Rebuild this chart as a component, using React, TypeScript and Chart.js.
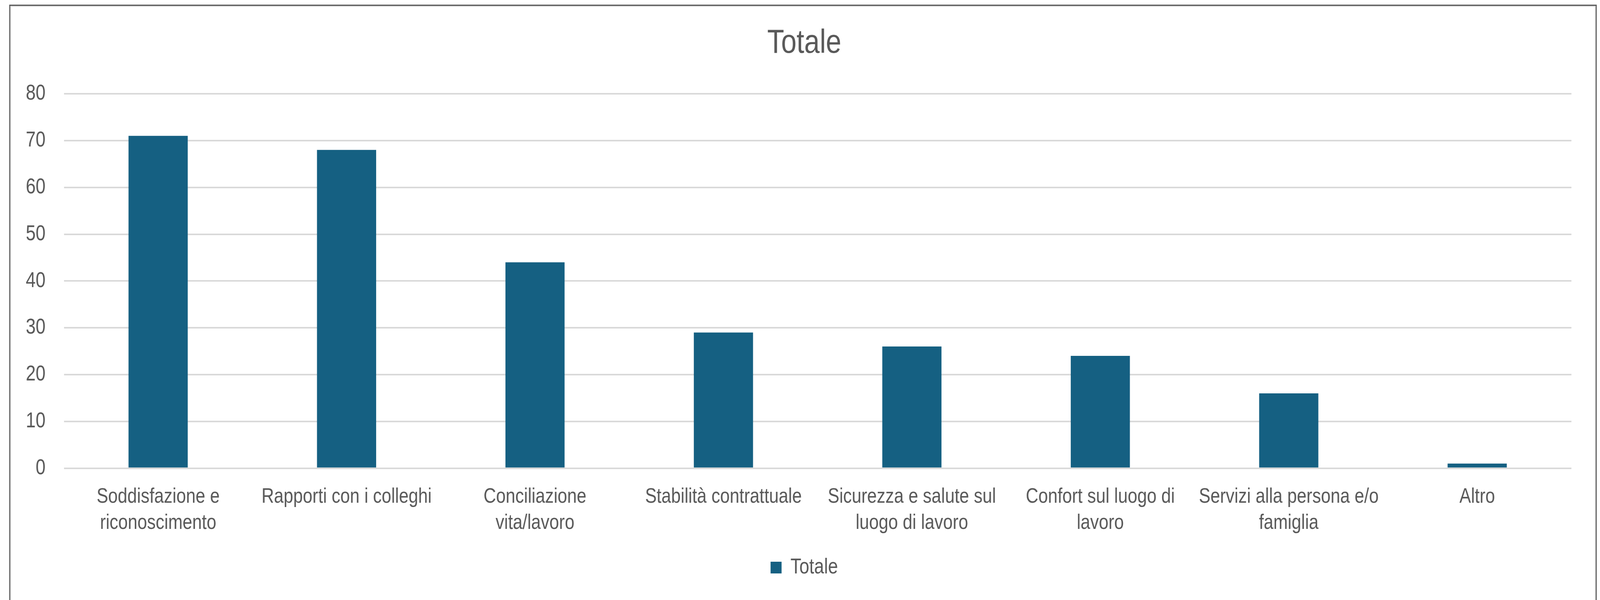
import React, { useEffect, useRef } from "react";
import { Chart, registerables } from "chart.js";

Chart.register(...registerables);

// ---- data ----
const categories: string[][] = [
  ["Soddisfazione e", "riconoscimento"],
  ["Rapporti con i colleghi"],
  ["Conciliazione", "vita/lavoro"],
  ["Stabilità contrattuale"],
  ["Sicurezza e salute sul", "luogo di lavoro"],
  ["Confort sul luogo di", "lavoro"],
  ["Servizi alla persona e/o", "famiglia"],
  ["Altro"],
];
const seriesName = "Totale";
const values: number[] = [71, 68, 44, 29, 26, 24, 16, 1];
const chartTitle = "Totale";
const yMin = 0;
const yMax = 80;
const yStep = 10;

// ---- presentation ----
const REF_W = 4357;
const REF_H = 1536;
const SQUEEZE = 0.88; // emulates the narrow typeface of the original
const CANVAS_W = Math.round(REF_W / SQUEEZE);
const CANVAS_H = REF_H;
const FONT = "'Liberation Sans', Arial, 'Noto Sans', sans-serif";
const TEXT = "#595959";
const GRID = "#d9d9d9";
const BAR = "#156082";

const FRAME_L = 26.5 / SQUEEZE;
const FRAME_R = 4346.5 / SQUEEZE;
const FRAME_T = 13.5;

const PLOT_LEFT = 174 / SQUEEZE;
const PLOT_RIGHT = 4279 / SQUEEZE;
const TITLE_CENTER = 2190 / SQUEEZE;
const PAD_L = 78.6;
const Y_W = PLOT_LEFT - PAD_L;
const BOX_RIGHT = 2 * TITLE_CENTER - PAD_L; // right edge of title/legend band
const PAD_R = CANVAS_W - BOX_RIGHT;
const SPACER_W = BOX_RIGHT - PLOT_RIGHT;

const framePlugin = {
  id: "frame",
  beforeDraw(chart: any) {
    const ctx = chart.ctx;
    ctx.save();
    ctx.fillStyle = "#ffffff";
    ctx.fillRect(0, 0, chart.width, chart.height);
    ctx.restore();
  },
  afterDraw(chart: any) {
    const ctx = chart.ctx;
    ctx.save();
    ctx.strokeStyle = "#e2e2e2";
    ctx.lineWidth = 2.5;
    ctx.strokeRect(FRAME_L + 2.9, FRAME_T + 2.8, FRAME_R - FRAME_L - 5.8, chart.height + 40);
    ctx.strokeStyle = "#595959";
    ctx.lineWidth = 3.2;
    ctx.strokeRect(FRAME_L, FRAME_T, FRAME_R - FRAME_L, chart.height + 40);
    ctx.restore();
  },
};

export default function App() {
  const ref = useRef<HTMLCanvasElement | null>(null);
  const vw = (typeof window !== "undefined" && window.innerWidth) || REF_W;
  const vh = (typeof window !== "undefined" && window.innerHeight) || REF_H;

  useEffect(() => {
    if (!ref.current) return;
    const chart = new Chart(ref.current, {
      type: "bar",
      data: {
        labels: categories,
        datasets: [
          {
            label: seriesName,
            data: values,
            backgroundColor: BAR,
            borderWidth: 0,
            barPercentage: 0.314,
            categoryPercentage: 1,
            yAxisID: "y",
          },
        ],
      },
      options: {
        animation: false,
        responsive: false,
        maintainAspectRatio: false,
        devicePixelRatio: 1,
        layout: { padding: { left: PAD_L, right: PAD_R, top: 10, bottom: 45.5 } },
        plugins: {
          tooltip: { enabled: false },
          title: {
            display: true,
            text: chartTitle,
            color: TEXT,
            font: { family: FONT, size: 86, weight: "normal", lineHeight: "103.2px" },
            padding: { top: 49.4, bottom: 77.4 },
          },
          legend: {
            display: true,
            position: "bottom",
            labels: {
              boxWidth: 34,
              boxHeight: 30,
              padding: 10,
              color: TEXT,
              font: { family: FONT, size: 55 },
            },
          },
        },
        scales: {
          x: {
            grid: { display: false },
            border: { display: false },
            ticks: {
              color: TEXT,
              font: { family: FONT, size: 53.5, lineHeight: "67px" },
              padding: 32,
              maxRotation: 0,
              minRotation: 0,
              autoSkip: false,
            },
            afterFit: (s: any) => {
              s.height = 216.8;
            },
          },
          y: {
            position: "left",
            min: yMin,
            max: yMax,
            ticks: {
              stepSize: yStep,
              color: TEXT,
              font: { family: FONT, size: 55 },
              padding: 56.8,
            },
            grid: { color: GRID, lineWidth: 4, drawTicks: false },
            border: { display: false },
            afterFit: (s: any) => {
              s.width = Y_W;
            },
          },
          spacer: {
            type: "linear",
            position: "right",
            display: true,
            ticks: { display: false },
            grid: { display: false, drawTicks: false },
            border: { display: false },
            afterFit: (s: any) => {
              s.width = SPACER_W;
            },
          },
        },
      } as any,
      plugins: [framePlugin],
    });
    return () => chart.destroy();
  }, []);

  return (
    <div
      style={{
        position: "absolute",
        left: 0,
        top: 0,
        width: vw,
        height: vh,
        overflow: "hidden",
        background: "#ffffff",
      }}
    >
      <canvas
        ref={ref}
        width={CANVAS_W}
        height={CANVAS_H}
        style={{ width: vw + "px", height: vh + "px", display: "block" }}
      />
    </div>
  );
}
